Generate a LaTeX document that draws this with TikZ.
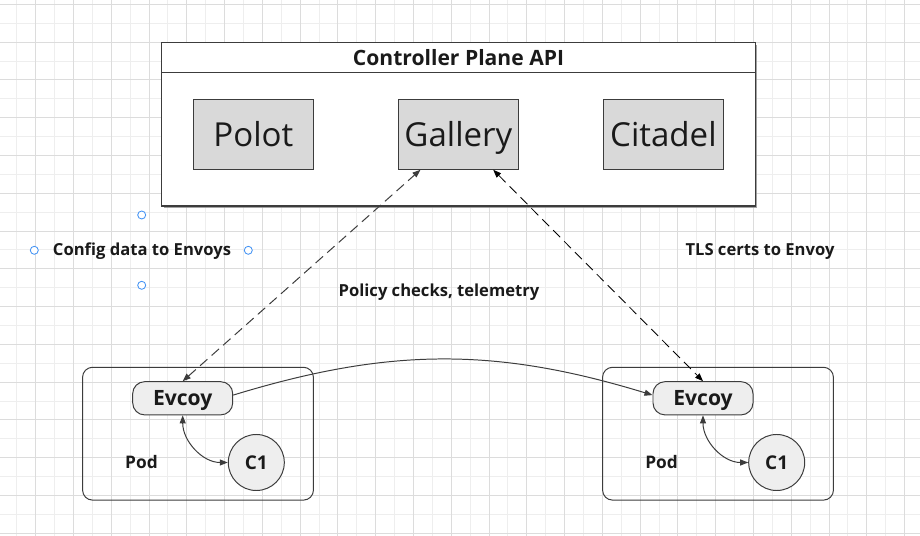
\documentclass[tikz,border=0pt]{standalone}
\usepackage{fontspec}
\setmainfont{Open Sans}
\usetikzlibrary{positioning,arrows.meta,shadows}
\definecolor{gridminor}{RGB}{238,238,238}
\definecolor{gridmajor}{RGB}{220,220,220}
\definecolor{boxgray}{RGB}{217,217,217}
\definecolor{lightfill}{RGB}{238,238,238}
\definecolor{linegray}{RGB}{60,60,60}
\definecolor{shadowgray}{RGB}{140,140,140}
\definecolor{textdark}{RGB}{26,26,26}
\definecolor{handleblue}{RGB}{66,146,244}

\begin{document}
\begin{tikzpicture}[x=0.025cm, y=-0.025cm,
        % Node styles
        panel/.style={draw=linegray, line width=0.8pt, minimum width=14.83cm, minimum height=4.08cm, inner sep=0pt},
        header/.style={draw=linegray, line width=0.8pt, minimum width=14.83cm, minimum height=0.74cm, inner sep=0pt, font=\fontsize{15}{17}\selectfont\bfseries, text=textdark, text height=10.7pt, text depth=0pt},
        service/.style={draw=linegray, fill=boxgray, line width=0.7pt, minimum width=3cm, minimum height=1.75cm, inner sep=0pt, font=\fontsize{23.5}{26}\selectfont, text=textdark, text height=16.8pt, text depth=0pt},
        pod/.style={draw=linegray, line width=0.7pt, rounded corners=0.25cm, minimum width=5.77cm, minimum height=3.32cm, inner sep=0pt},
        proxy/.style={draw=linegray, fill=lightfill, line width=0.7pt, rounded corners=0.3cm, minimum width=2.5cm, minimum height=0.83cm, inner sep=0pt, font=\fontsize{15}{17}\selectfont\bfseries, text=textdark, text height=10.7pt, text depth=0pt},
        container/.style={circle, draw=linegray, fill=lightfill, line width=0.7pt, minimum size=1.4cm, inner sep=0pt, font=\fontsize{13.5}{15}\selectfont\bfseries, text=textdark, text height=9.6pt, text depth=0pt},
        label/.style={font=\fontsize{11.8}{13}\selectfont\bfseries, text=textdark, inner sep=0pt, text height=8.4pt, text depth=0pt},
        handle/.style={circle, draw=handleblue, fill=white, line width=0.6pt, minimum size=0.2cm, inner sep=0pt}
    ]
    \useasboundingbox (0,0) rectangle (920,536);
    \fill[white] (0,0) rectangle (920,536);

    % Background grid
    \foreach \k in {0,...,48} \draw[gridminor, line width=0.6pt] ({16.7+18.89*\k},0) -- ({16.7+18.89*\k},536);
    \foreach \k in {0,...,28} \draw[gridminor, line width=0.6pt] (0,{4.3+18.89*\k}) -- (920,{4.3+18.89*\k});
    \foreach \k in {0,...,23} \draw[gridmajor, line width=0.6pt] ({35.6+37.78*\k},0) -- ({35.6+37.78*\k},536);
    \foreach \k in {0,...,14} \draw[gridmajor, line width=0.6pt] (0,{4.3+37.78*\k}) -- (920,{4.3+37.78*\k});

    % Control plane
    \node[panel, fill=white, drop shadow={shadow xshift=0.05cm, shadow yshift=-0.05cm, fill=shadowgray, opacity=0.8}] (plane) at (458.5, 124.4) {};
    \node[header, anchor=north] (title) at (plane.north) {Controller Plane API};
    \node[service] (polot) at (253.4, 134.3) {Polot};
    \node[service] (gallery) at (458.4, 134.3) {Gallery};
    \node[service] (citadel) at (663.4, 134.3) {Citadel};

    % Pods
    \node[pod] (podL) at (198, 433.7) {};
    \node[pod] (podR) at (718, 433.7) {};
    \node[proxy] (envoyL) at (182.7, 398.3) {Evcoy};
    \node[proxy] (envoyR) at (703, 398.3) {Evcoy};
    \node[container] (c1L) at (256.3, 462.5) {C1};
    \node[container] (c1R) at (776.7, 462.5) {C1};
    \node[label, font=\fontsize{12.3}{14}\selectfont\bfseries] (podlabelL) at (141.5, 463) {Pod};
    \node[label, font=\fontsize{12.3}{14}\selectfont\bfseries] (podlabelR) at (661.5, 463) {Pod};

    % Edge labels
    \node[label] (config) at (142, 250) {Config data to Envoys};
    \node[label] (policy) at (439, 291) {Policy checks, telemetry};
    \node[label] (tls) at (760, 250) {TLS certs to Envoy};

    % Selection handles
    \node[handle] (hN) at (141.7, 215) {};
    \node[handle] (hW) at (34.3, 250.3) {};
    \node[handle] (hE) at (248.3, 250.3) {};
    \node[handle] (hS) at (141.7, 285.3) {};

    % Connectors
    \draw[{Triangle[length=0.2cm, width=0.15cm]}-{Triangle[length=0.2cm, width=0.15cm]}, linegray, line width=0.7pt, dash pattern=on 7pt off 4pt] (envoyL.north) -- ([xshift=-0.95cm]gallery.south);
    \draw[{Triangle[length=0.2cm, width=0.15cm]}-{Triangle[length=0.2cm, width=0.15cm]}, black, line width=0.6pt, dash pattern=on 7pt off 4pt] ([xshift=0.87cm]gallery.south) -- (envoyR.north);
    \draw[-{Triangle[length=0.2cm, width=0.15cm]}, linegray, line width=0.7pt] ([yshift=0.08cm]envoyL.east) to[bend left=17] ([yshift=0.08cm]envoyR.west);
    \draw[{Triangle[length=0.2cm, width=0.15cm]}-{Triangle[length=0.2cm, width=0.15cm]}, linegray, line width=0.7pt] (envoyL.south) to[out=-90, in=180] (c1L.west);
    \draw[{Triangle[length=0.2cm, width=0.15cm]}-{Triangle[length=0.2cm, width=0.15cm]}, linegray, line width=0.7pt] (envoyR.south) to[out=-90, in=180] (c1R.west);

\end{tikzpicture}
\end{document}
